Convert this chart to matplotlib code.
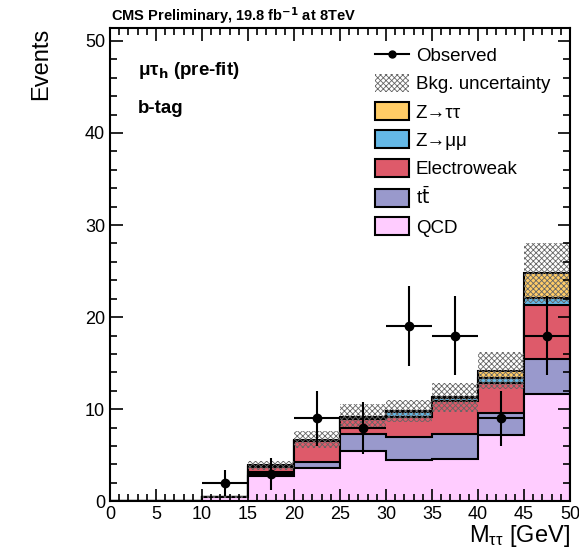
import numpy as np
import matplotlib.pyplot as plt
from matplotlib.patches import Patch
from matplotlib.lines import Line2D
from matplotlib.ticker import MultipleLocator

plt.rcParams['font.family'] = ['Liberation Sans', 'DejaVu Sans']
plt.rcParams['mathtext.default'] = 'regular'
plt.rcParams['hatch.linewidth'] = 0.6

edges = np.arange(0, 55, 5)
centers = edges[:-1] + 2.5

# background components per bin (pre-fit)
qcd = [0, 0, 0.5, 2.75, 3.6, 5.5, 4.5, 4.6, 7.2, 11.7]
ttbar = [0, 0, 0, 0.45, 0.7, 1.8, 2.5, 2.7, 2.4, 3.7]
ewk = [0, 0, 0, 0.5, 2.2, 1.6, 2.2, 3.6, 3.2, 5.9]
zmm = [0, 0, 0, 0.1, 0.1, 0.2, 0.5, 0.3, 0.6, 0.8]
ztt = [0, 0, 0, 0.1, 0.1, 0.1, 0.1, 0.1, 0.8, 2.7]
bkg_unc = [0, 0, 0.1, 0.5, 0.9, 1.4, 1.2, 1.6, 2.0, 3.3]

obs_x = [12.5, 17.5, 22.5, 27.5, 32.5, 37.5, 42.5, 47.5]
obs = [2, 3, 9, 8, 19, 18, 9, 18]

components = [
    ('QCD', qcd, '#FFCCFF'),
    (r't$\bar{\mathrm{t}}$', ttbar, '#9999CC'),
    ('Electroweak', ewk, '#DE5A6A'),
    ('Z→μμ', zmm, '#64B8E6'),
    ('Z→ττ', ztt, '#FFCC66'),
]

fig = plt.figure(figsize=(5.79, 5.57), dpi=100)
ax = fig.add_axes([0.190, 0.100, 0.7945, 0.8497])

cums = np.cumsum([np.array(c[1]) for c in components], axis=0)
# draw stacked histograms from the top one down, like THStack
for (name, vals, col), cum in reversed(list(zip(components, cums))):
    ax.stairs(cum, edges, fill=True, facecolor=col, edgecolor='none')
    ax.stairs(cum, edges, color='black', linewidth=1.5)

total = cums[-1]
unc = np.array(bkg_unc)
ax.bar(centers, 2 * unc, bottom=total - unc, width=5, facecolor='none',
       edgecolor='#666666', hatch='xxxxxx', linewidth=0)

ax.errorbar(obs_x, obs, xerr=2.5, yerr=np.sqrt(obs), fmt='o', color='black',
            markersize=6, elinewidth=1.5, capsize=0)

ax.set_xlim(0, 50)
ax.set_ylim(0, 51.4)
ax.xaxis.set_major_locator(MultipleLocator(5))
ax.xaxis.set_minor_locator(MultipleLocator(1))
ax.yaxis.set_major_locator(MultipleLocator(10))
ax.yaxis.set_minor_locator(MultipleLocator(2))
ax.tick_params(which='both', direction='in', top=True, right=True, labelsize=13, width=1.2)
ax.tick_params(which='major', length=9)
ax.tick_params(which='minor', length=5)
for s in ax.spines.values():
    s.set_linewidth(1.5)

ax.set_ylabel('Events', fontsize=17, loc='top', labelpad=24)
ax.set_xlabel(r'M$_{\tau\tau}$ [GeV]', fontsize=17, loc='right', labelpad=0)

fig.text(0.192, 0.972, r'CMS Preliminary, 19.8 fb$^{\mathbf{-1}}$ at 8TeV',
         fontsize=10.5, fontweight='bold', va='center')
ax.text(0.06, 0.911, r'$\mu\tau_{\mathbf{h}}$ (pre-fit)', transform=ax.transAxes,
        fontsize=13.5, fontweight='bold', va='center')
ax.text(0.06, 0.831, 'b-tag', transform=ax.transAxes,
        fontsize=13.5, fontweight='bold', va='center')

handles = [
    Line2D([], [], color='black', marker='o', markersize=5, linewidth=1.5),
    Patch(facecolor='white', edgecolor='#666666', hatch='xxxxxx', linewidth=0),
]
labels = ['Observed', 'Bkg. uncertainty']
for name, vals, col in reversed(components):
    handles.append(Patch(facecolor=col, edgecolor='black', linewidth=1.5))
    labels.append(name)
ax.legend(handles, labels, loc='upper right', bbox_to_anchor=(0.985, 0.99),
          frameon=False, fontsize=13.5, handlelength=1.8, handleheight=1.1,
          labelspacing=0.47, handletextpad=0.35, borderaxespad=0.3)

fig.savefig('out.png', dpi=100)
